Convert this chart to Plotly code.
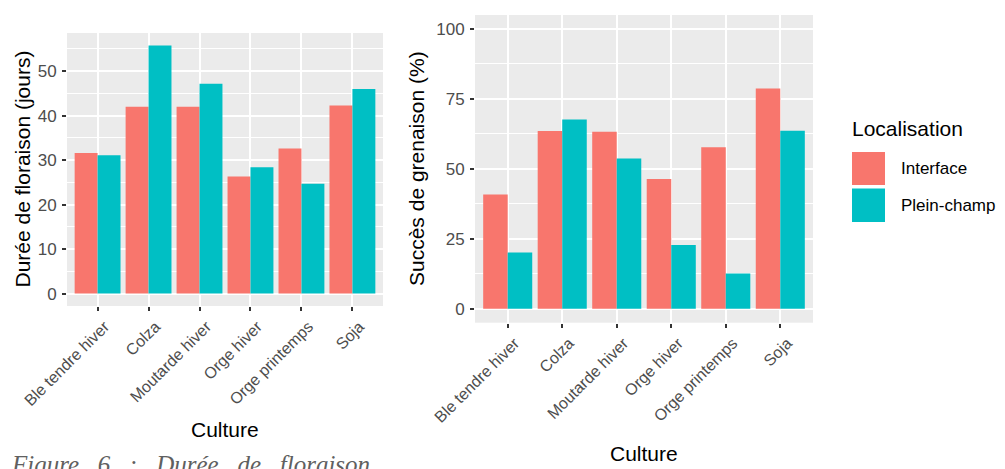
import plotly.graph_objects as go

cultures = ["Ble tendre hiver", "Colza", "Moutarde hiver", "Orge hiver", "Orge printemps", "Soja"]
duree_interface = [31.6, 42.0, 42.0, 26.3, 32.6, 42.3]
duree_plein = [31.1, 55.8, 47.2, 28.4, 24.7, 46.0]
succes_interface = [40.8, 63.5, 63.3, 46.4, 57.7, 78.7]
succes_plein = [20.1, 67.6, 53.7, 22.8, 12.6, 63.6]
left_ticks = [0, 10, 20, 30, 40, 50]
right_ticks = [0, 25, 50, 75, 100]
series_names = ["Interface", "Plein-champ"]
colors = ["#F8766D", "#00BFC4"]

# the page body has an 8px margin, so the figure is drawn 8px in from the top-left
OFF = 8
W, H = 1005 - OFF, 469 - OFF
FONT = "Liberation Sans, Arial, sans-serif"


def px(x):
    return (x - OFF) / W


def py(y):
    return 1 - (y - OFF) / H


fig = go.Figure()
for vals, name, col in [(duree_interface, series_names[0], colors[0]), (duree_plein, series_names[1], colors[1])]:
    fig.add_trace(go.Bar(x=cultures, y=vals, name=name, marker=dict(color=col, line_width=0),
                         xaxis="x", yaxis="y", showlegend=False))
for vals, name, col in [(succes_interface, series_names[0], colors[0]), (succes_plein, series_names[1], colors[1])]:
    fig.add_trace(go.Bar(x=cultures, y=vals, name=name, marker=dict(color=col, line_width=0),
                         xaxis="x2", yaxis="y2", showlegend=False))

xcommon = dict(type="category", range=[-0.6, 5.6], showgrid=True, gridcolor="white", gridwidth=1.5,
               ticks="outside", ticklen=4, tickwidth=1.5, tickcolor="#333333", tickangle=-45,
               tickfont=dict(family=FONT, size=16, color="#4D4D4D"), showline=False, zeroline=False,
               fixedrange=True, automargin=False, ticklabelshift=7)
ycommon = dict(showgrid=True, gridcolor="white", gridwidth=1.5, ticks="outside", ticklen=4, tickwidth=1.5,
               tickcolor="#333333", tickfont=dict(family=FONT, size=17, color="#4D4D4D"),
               showline=False, zeroline=False, ticklabelstandoff=2, automargin=False)

fig.update_layout(
    width=W, height=H,
    margin=dict(l=0, r=0, t=0, b=0, autoexpand=False),
    paper_bgcolor="white",
    plot_bgcolor="#EBEBEB",
    barmode="group", bargap=0.1, bargroupgap=0,
    showlegend=False,
    xaxis=dict(domain=[px(67), px(383)], anchor="y", **xcommon),
    yaxis=dict(domain=[py(306), py(33)], anchor="x", range=[-2.79, 58.59],
               tickvals=left_ticks, minor=dict(showgrid=True, gridcolor="white", gridwidth=0.7, dtick=5, tick0=0,
                                               ticks=""),
               **ycommon),
    xaxis2=dict(domain=[px(475), px(813)], anchor="y2", **xcommon),
    yaxis2=dict(domain=[py(322.7), py(15)], anchor="x2", range=[-5, 105],
                tickvals=right_ticks, minor=dict(showgrid=True, gridcolor="white", gridwidth=0.7, dtick=12.5,
                                                 tick0=0, ticks=""),
                **ycommon),
)

ann = []
title_font = dict(family=FONT, size=21, color="black")
ann.append(dict(text="Durée de floraison (jours)", x=px(22), y=py(169.5), xref="paper", yref="paper",
                textangle=-90, showarrow=False, font=title_font, xanchor="center", yanchor="middle"))
ann.append(dict(text="Succès de grenaison (%)", x=px(416), y=py(169), xref="paper", yref="paper",
                textangle=-90, showarrow=False, font=title_font, xanchor="center", yanchor="middle"))
ann.append(dict(text="Culture", x=px(225), y=py(429), xref="paper", yref="paper",
                showarrow=False, font=title_font, xanchor="center", yanchor="middle"))
ann.append(dict(text="Culture", x=px(644), y=py(453), xref="paper", yref="paper",
                showarrow=False, font=title_font, xanchor="center", yanchor="middle"))
# legend
ann.append(dict(text="Localisation", x=px(850), y=py(128), xref="paper", yref="paper",
                showarrow=False, font=dict(family=FONT, size=21, color="black"), xanchor="left", yanchor="middle"))
shapes = []
key_y = [(152, 185), (188.5, 222)]
for (y0, y1), name, col in zip(key_y, series_names, colors):
    shapes.append(dict(type="rect", xref="paper", yref="paper", x0=px(852), x1=px(885), y0=py(y1), y1=py(y0),
                       fillcolor=col, line=dict(width=0)))
    ann.append(dict(text=name, x=px(899), y=py((y0 + y1) / 2), xref="paper", yref="paper",
                    showarrow=False, font=dict(family=FONT, size=17, color="black"),
                    xanchor="left", yanchor="middle"))
# caption (cut off at the bottom of the image)
nb = "\u00a0"
caption = f"Figure{nb*3}6{nb*3}:{nb*3}Durée{nb*3}de{nb*3}floraison"
ann.append(dict(text=f"<i>{caption}</i>", x=px(9), y=py(449), xref="paper", yref="paper",
                showarrow=False, font=dict(family="Liberation Serif, serif", size=25, color="#606060"),
                xanchor="left", yanchor="top"))

fig.update_layout(annotations=ann, shapes=shapes)
fig.write_html("out.html")
